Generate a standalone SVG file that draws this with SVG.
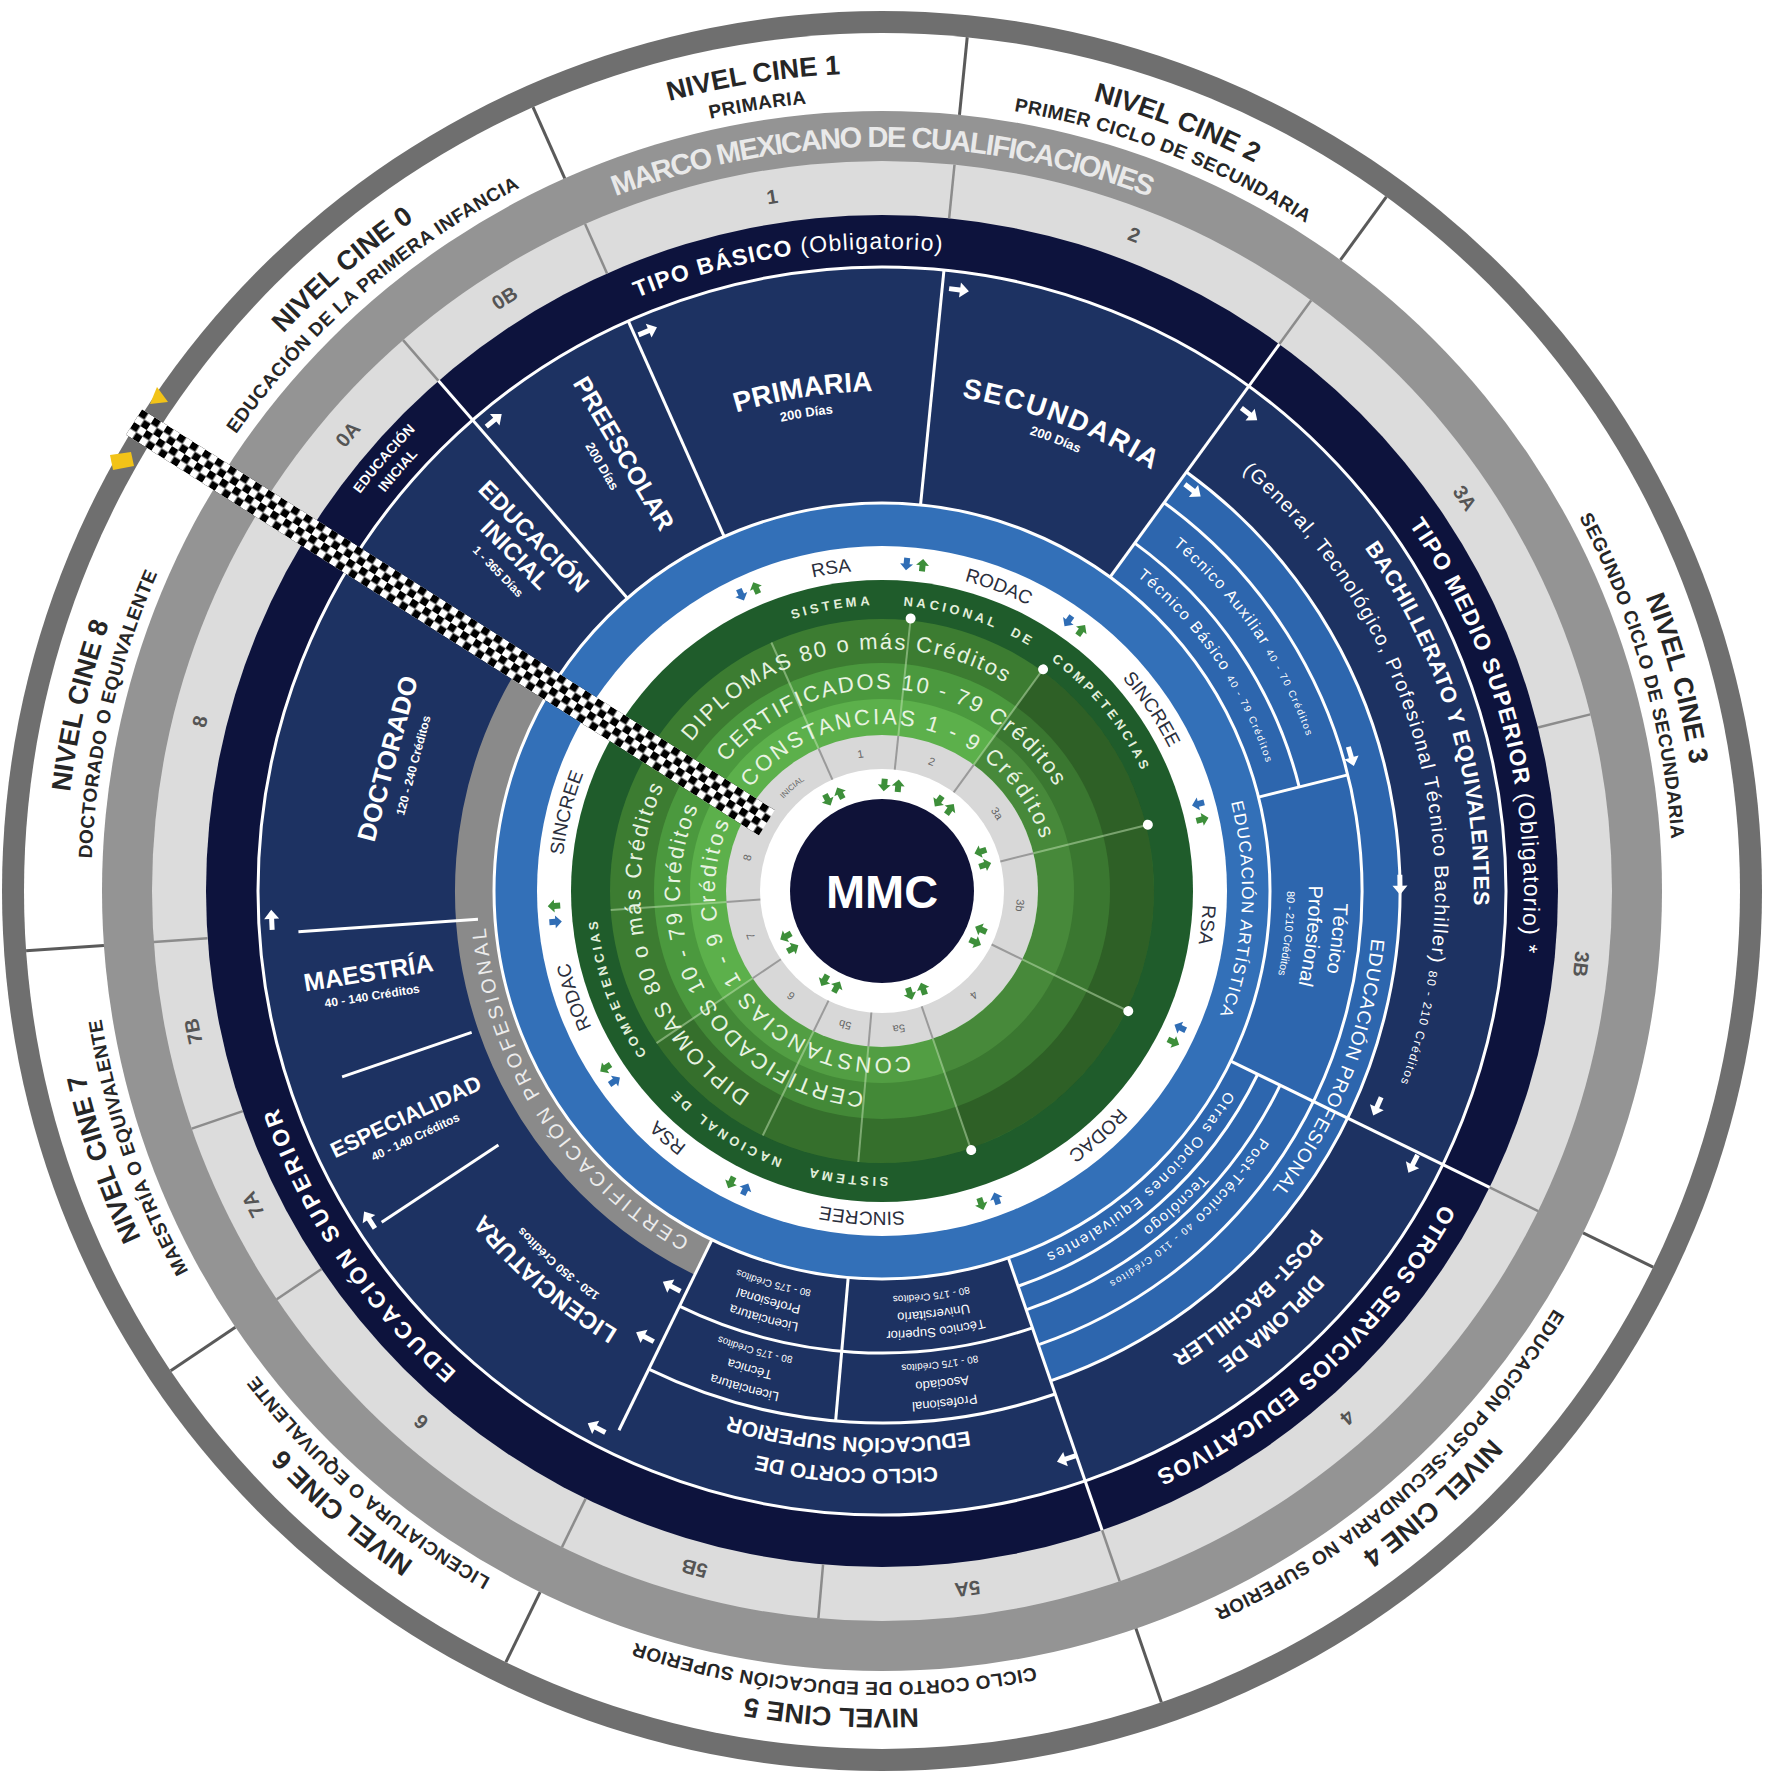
<svg xmlns="http://www.w3.org/2000/svg" width="1770" height="1780" viewBox="0 0 1770 1780">
<defs>
<style>
text{font-family:"Liberation Sans",Arial,sans-serif}
.cn{font-size:27px;font-weight:bold;fill:#262626}
.cs{font-size:19px;font-weight:bold;fill:#262626;letter-spacing:.5px}
.mk{font-size:29px;font-weight:bold;fill:#e9e9e9;letter-spacing:-1.6px}
.lg{font-size:20px;font-weight:bold;fill:#555}
.rg{font-size:23px;font-weight:bold;fill:#fff;letter-spacing:1.2px}
.nr{font-weight:normal}
.wb{font-weight:bold;fill:#fff}
.wn{fill:#fff}
.rs{font-size:19px;fill:#2a2e3c}
.sn{font-size:13px;font-weight:bold;fill:#e3efdc;letter-spacing:3.5px}
.gt{font-size:22px;fill:#e8f3e2}
.in{font-size:11px;fill:#666}
.wl{stroke:#fff;stroke-width:3;fill:none}
</style>
<path id="p818" d="M0,-818A818,818 0 0 1 0,818A818,818 0 0 1 0,-818A818,818 0 0 1 0,818A818,818 0 0 1 0,-818"/>
<path id="p791" d="M0,-791A791,791 0 0 1 0,791A791,791 0 0 1 0,-791A791,791 0 0 1 0,791A791,791 0 0 1 0,-791"/>
<path id="p744" d="M0,-744A744,744 0 0 1 0,744A744,744 0 0 1 0,-744A744,744 0 0 1 0,744A744,744 0 0 1 0,-744"/>
<path id="p696" d="M0,-696A696,696 0 0 1 0,696A696,696 0 0 1 0,-696A696,696 0 0 1 0,696A696,696 0 0 1 0,-696"/>
<path id="p656" d="M0,-656A656,656 0 0 1 0,656A656,656 0 0 1 0,-656A656,656 0 0 1 0,656A656,656 0 0 1 0,-656"/>
<path id="p642" d="M0,-642A642,642 0 0 1 0,642A642,642 0 0 1 0,-642A642,642 0 0 1 0,642A642,642 0 0 1 0,-642"/>
<path id="p637" d="M0,-637A637,637 0 0 1 0,637A637,637 0 0 1 0,-637A637,637 0 0 1 0,637A637,637 0 0 1 0,-637"/>
<path id="p592" d="M0,-592A592,592 0 0 1 0,592A592,592 0 0 1 0,-592A592,592 0 0 1 0,592A592,592 0 0 1 0,-592"/>
<path id="p578" d="M0,-578A578,578 0 0 1 0,578A578,578 0 0 1 0,-578A578,578 0 0 1 0,578A578,578 0 0 1 0,-578"/>
<path id="p553" d="M0,-553A553,553 0 0 1 0,553A553,553 0 0 1 0,-553A553,553 0 0 1 0,553A553,553 0 0 1 0,-553"/>
<path id="p547" d="M0,-547A547,547 0 0 1 0,547A547,547 0 0 1 0,-547A547,547 0 0 1 0,547A547,547 0 0 1 0,-547"/>
<path id="p512" d="M0,-512A512,512 0 0 1 0,512A512,512 0 0 1 0,-512A512,512 0 0 1 0,512A512,512 0 0 1 0,-512"/>
<path id="p500" d="M0,-500A500,500 0 0 1 0,500A500,500 0 0 1 0,-500A500,500 0 0 1 0,500A500,500 0 0 1 0,-500"/>
<path id="p492" d="M0,-492A492,492 0 0 1 0,492A492,492 0 0 1 0,-492A492,492 0 0 1 0,492A492,492 0 0 1 0,-492"/>
<path id="p480" d="M0,-480A480,480 0 0 1 0,480A480,480 0 0 1 0,-480A480,480 0 0 1 0,480A480,480 0 0 1 0,-480"/>
<path id="p474" d="M0,-474A474,474 0 0 1 0,474A474,474 0 0 1 0,-474A474,474 0 0 1 0,474A474,474 0 0 1 0,-474"/>
<path id="p452" d="M0,-452A452,452 0 0 1 0,452A452,452 0 0 1 0,-452A452,452 0 0 1 0,452A452,452 0 0 1 0,-452"/>
<path id="p440" d="M0,-440A440,440 0 0 1 0,440A440,440 0 0 1 0,-440A440,440 0 0 1 0,440A440,440 0 0 1 0,-440"/>
<path id="p427" d="M0,-427A427,427 0 0 1 0,427A427,427 0 0 1 0,-427A427,427 0 0 1 0,427A427,427 0 0 1 0,-427"/>
<path id="p422" d="M0,-422A422,422 0 0 1 0,422A422,422 0 0 1 0,-422A422,422 0 0 1 0,422A422,422 0 0 1 0,-422"/>
<path id="p405" d="M0,-405A405,405 0 0 1 0,405A405,405 0 0 1 0,-405A405,405 0 0 1 0,405A405,405 0 0 1 0,-405"/>
<path id="p398" d="M0,-398A398,398 0 0 1 0,398A398,398 0 0 1 0,-398A398,398 0 0 1 0,398A398,398 0 0 1 0,-398"/>
<path id="p360" d="M0,-360A360,360 0 0 1 0,360A360,360 0 0 1 0,-360A360,360 0 0 1 0,360A360,360 0 0 1 0,-360"/>
<path id="p321" d="M0,-321A321,321 0 0 1 0,321A321,321 0 0 1 0,-321A321,321 0 0 1 0,321A321,321 0 0 1 0,-321"/>
<path id="p286" d="M0,-286A286,286 0 0 1 0,286A286,286 0 0 1 0,-286A286,286 0 0 1 0,286A286,286 0 0 1 0,-286"/>
<path id="p242" d="M0,-242A242,242 0 0 1 0,242A242,242 0 0 1 0,-242A242,242 0 0 1 0,242A242,242 0 0 1 0,-242"/>
<path id="p202" d="M0,-202A202,202 0 0 1 0,202A202,202 0 0 1 0,-202A202,202 0 0 1 0,202A202,202 0 0 1 0,-202"/>
<path id="p167" d="M0,-167A167,167 0 0 1 0,167A167,167 0 0 1 0,-167A167,167 0 0 1 0,167A167,167 0 0 1 0,-167"/>
<path id="p135" d="M0,-135A135,135 0 0 1 0,135A135,135 0 0 1 0,-135A135,135 0 0 1 0,135A135,135 0 0 1 0,-135"/>
<path id="au" d="M-3,6H3V0H6.5L0,-6.5L-6.5,0H-3Z"/>
<g id="bp"><use href="#au" transform="translate(-8,0) rotate(180)" fill="#2f6db5"/><use href="#au" transform="translate(8,0)" fill="#3d8f3a"/></g>
<g id="gp"><use href="#au" transform="translate(-7,0) rotate(180)" fill="#3d8f3a"/><use href="#au" transform="translate(7,0)" fill="#3d8f3a"/></g>
<path id="arr" d="M-10,-2.5H1V-7.5L10,0L1,7.5V2.5H-10Z" fill="#fff"/>
<pattern id="chk" width="15" height="15" patternUnits="userSpaceOnUse"><rect width="15" height="15" fill="#fff"/><rect width="7.5" height="7.5" fill="#000"/><rect x="7.5" y="7.5" width="7.5" height="7.5" fill="#000"/></pattern>
</defs>
<rect width="1770" height="1780" fill="#fff"/>
<g transform="translate(882,891)">
<g id="rings">
<circle r="880" fill="#6f6f6f"/>
<circle r="858" fill="#fff"/>
<circle r="780" fill="#949494"/>
<circle r="730" fill="#dcdcdc"/>
<circle r="676" fill="#0d133d"/>
<circle r="624" fill="#1d3262"/>
<circle r="453" fill="none" stroke="#2d66ae" stroke-width="130" stroke-dasharray="988.3 5000" transform="rotate(-54)"/>
<circle r="407.5" fill="none" stroke="#8a8a8a" stroke-width="39" stroke-dasharray="682.8 5000" transform="rotate(116)"/>
<circle r="388" fill="#3370b8"/>
<circle r="345" fill="#fff"/>
<circle r="311" fill="#1f5c2b"/>
<circle r="272" fill="#3c7c31"/>
<circle r="228" fill="#4b993e"/>
<circle r="192" fill="#5cb04b"/>
<circle r="214" fill="none" stroke="#000" stroke-opacity=".22" stroke-width="116" stroke-dasharray="466.9 5000" transform="rotate(-54)"/>
<circle r="214" fill="none" stroke="#000" stroke-opacity=".1" stroke-width="116" stroke-dasharray="280.1 5000" transform="rotate(71)"/>
<circle r="156" fill="#d8d8d8"/>
<circle r="122" fill="#fff"/>
</g>
<g id="connectors">
<g stroke="#5a5a5a" stroke-width="3">
<line y1="-780" y2="-858" transform="rotate(336)"/>
<line y1="-780" y2="-858" transform="rotate(5.7)"/>
<line y1="-780" y2="-858" transform="rotate(36)"/>
<line y1="-780" y2="-858" transform="rotate(116)"/>
<line y1="-780" y2="-858" transform="rotate(161)"/>
<line y1="-780" y2="-858" transform="rotate(206)"/>
<line y1="-780" y2="-858" transform="rotate(236)"/>
<line y1="-780" y2="-858" transform="rotate(266)"/>
</g>
<g stroke="#8c8c8c" stroke-width="2.5">
<line y1="-676" y2="-730" transform="rotate(319)"/>
<line y1="-676" y2="-730" transform="rotate(336)"/>
<line y1="-676" y2="-730" transform="rotate(5.7)"/>
<line y1="-676" y2="-730" transform="rotate(36)"/>
<line y1="-676" y2="-730" transform="rotate(76)"/>
<line y1="-676" y2="-730" transform="rotate(116)"/>
<line y1="-676" y2="-730" transform="rotate(161)"/>
<line y1="-676" y2="-730" transform="rotate(185)"/>
<line y1="-676" y2="-730" transform="rotate(206)"/>
<line y1="-676" y2="-730" transform="rotate(236)"/>
<line y1="-676" y2="-730" transform="rotate(251)"/>
<line y1="-676" y2="-730" transform="rotate(266)"/>
</g>
<circle r="624" class="wl"/>
<circle r="388" class="wl"/>
<circle r="518" class="wl" stroke-dasharray="1130.1 5000" transform="rotate(-54)"/>
<circle r="480" class="wl" stroke-dasharray="1047.2 5000" transform="rotate(-54)"/>
<circle r="430" class="wl" stroke-dasharray="300.2 5000" transform="rotate(-54)"/>
<circle r="418" class="wl" stroke-dasharray="328.3 5000" transform="rotate(26)"/>
<circle r="443" class="wl" stroke-dasharray="347.9 5000" transform="rotate(26)"/>
<circle r="532" class="wl" stroke-dasharray="417.8 5000" transform="rotate(71)"/>
<circle r="462" class="wl" stroke-dasharray="362.9 5000" transform="rotate(71)"/>
<g stroke="#fff" stroke-width="3">
<line y1="-388" y2="-676" transform="rotate(319)"/>
<line y1="-388" y2="-624" transform="rotate(336)"/>
<line y1="-388" y2="-624" transform="rotate(5.7)"/>
<line y1="-388" y2="-676" transform="rotate(36)"/>
<line y1="-388" y2="-480" transform="rotate(76)"/>
<line y1="-388" y2="-676" transform="rotate(116)"/>
<line y1="-388" y2="-676" transform="rotate(161)"/>
<line y1="-388" y2="-532" transform="rotate(185)"/>
<line y1="-388" y2="-600" transform="rotate(206)"/>
<line y1="-460" y2="-600" transform="rotate(236.5)"/>
<line y1="-434" y2="-571" transform="rotate(251)"/>
<line y1="-405" y2="-585" transform="rotate(266)"/>
</g>
<g stroke="#c4e3b6" stroke-opacity=".5" stroke-width="2">
<line y1="-156" y2="-272" transform="rotate(336)"/>
<line y1="-156" y2="-272" transform="rotate(6)"/>
<line y1="-156" y2="-272" transform="rotate(36)"/>
<line y1="-156" y2="-272" transform="rotate(76)"/>
<line y1="-156" y2="-272" transform="rotate(116)"/>
<line y1="-156" y2="-272" transform="rotate(161)"/>
<line y1="-156" y2="-272" transform="rotate(185)"/>
<line y1="-156" y2="-272" transform="rotate(206)"/>
<line y1="-156" y2="-272" transform="rotate(236)"/>
<line y1="-156" y2="-272" transform="rotate(266)"/>
</g>
<g stroke="#9a9a9a" stroke-width="2">
<line y1="-122" y2="-156" transform="rotate(336)"/>
<line y1="-122" y2="-156" transform="rotate(6)"/>
<line y1="-122" y2="-156" transform="rotate(36)"/>
<line y1="-122" y2="-156" transform="rotate(76)"/>
<line y1="-122" y2="-156" transform="rotate(116)"/>
<line y1="-122" y2="-156" transform="rotate(161)"/>
<line y1="-122" y2="-156" transform="rotate(185)"/>
<line y1="-122" y2="-156" transform="rotate(206)"/>
<line y1="-122" y2="-156" transform="rotate(236)"/>
<line y1="-122" y2="-156" transform="rotate(266)"/>
</g>
<g fill="#fff">
<circle r="5" transform="rotate(6) translate(0,-274)"/>
<circle r="5" transform="rotate(36) translate(0,-274)"/>
<circle r="5" transform="rotate(76) translate(0,-274)"/>
<circle r="5" transform="rotate(116) translate(0,-274)"/>
<circle r="5" transform="rotate(161) translate(0,-274)"/>
</g>
<g id="arrows">
<use href="#arr" transform="rotate(320.5) translate(0,-610)"/>
<use href="#arr" transform="rotate(337.3) translate(0,-607)"/>
<use href="#arr" transform="rotate(7.3) translate(0,-606)"/>
<use href="#arr" transform="rotate(37.6) translate(0,-602)"/>
<use href="#arr" transform="rotate(37.8) translate(0,-507)"/>
<use href="#arr" transform="rotate(74) translate(0,-488)"/>
<use href="#arr" transform="rotate(89.3) translate(0,-518)"/>
<use href="#arr" transform="rotate(113.5) translate(0,-540)"/>
<use href="#arr" transform="rotate(117.2) translate(0,-597)"/>
<use href="#arr" transform="rotate(162) translate(0,-597)"/>
<use href="#arr" transform="rotate(208) translate(0,-448)"/>
<use href="#arr" transform="rotate(208) translate(0,-505)"/>
<use href="#arr" transform="rotate(208) translate(0,-608)"/>
<use href="#arr" transform="rotate(237.3) translate(0,-609)"/>
<use href="#arr" transform="rotate(267.3) translate(0,-611)"/>
</g>
<g id="icons-rsa">
<use href="#bp" transform="rotate(336) translate(0,-328)"/>
<use href="#bp" transform="rotate(5.7) translate(0,-328)"/>
<use href="#bp" transform="rotate(36) translate(0,-328)"/>
<use href="#bp" transform="rotate(76) translate(0,-328)"/>
<use href="#bp" transform="rotate(116) translate(0,-328)"/>
<use href="#bp" transform="rotate(161) translate(0,-328)"/>
<use href="#bp" transform="rotate(206) translate(0,-328)"/>
<use href="#bp" transform="rotate(236) translate(0,-328)"/>
<use href="#bp" transform="rotate(266) translate(0,-328)"/>
</g>
<g id="icons-inner">
<use href="#gp" transform="rotate(333) translate(0,-106)"/>
<use href="#gp" transform="rotate(5) translate(0,-106)"/>
<use href="#gp" transform="rotate(36) translate(0,-106)"/>
<use href="#gp" transform="rotate(72) translate(0,-106)"/>
<use href="#gp" transform="rotate(115) translate(0,-106)"/>
<use href="#gp" transform="rotate(161) translate(0,-106)"/>
<use href="#gp" transform="rotate(209) translate(0,-106)"/>
<use href="#gp" transform="rotate(241) translate(0,-106)"/>
</g>
</g>
<g id="cine-levels" text-anchor="middle">
<text class="cn"><textPath href="#p818" startOffset="44.31%">NIVEL CINE 0</textPath></text>
<text class="cs"><textPath href="#p791" startOffset="44.31%">EDUCACIÓN DE LA PRIMERA INFANCIA</textPath></text>
<text class="cn"><textPath href="#p818" startOffset="48.75%">NIVEL CINE 1</textPath></text>
<text class="cs"><textPath href="#p791" startOffset="48.75%">PRIMARIA</textPath></text>
<text class="cn"><textPath href="#p818" startOffset="52.92%">NIVEL CINE 2</textPath></text>
<text class="cs"><textPath href="#p791" startOffset="52.92%">PRIMER CICLO DE SECUNDARIA</textPath></text>
<text class="cn"><textPath href="#p818" startOffset="60.42%">NIVEL CINE 3</textPath></text>
<text class="cs"><textPath href="#p791" startOffset="60.28%">SEGUNDO CICLO DE SECUNDARIA</textPath></text>
<text class="cn"><textPath href="#p818" startOffset="69.17%">NIVEL CINE 4</textPath></text>
<text class="cs"><textPath href="#p791" startOffset="69.24%">EDUCACIÓN POST-SECUNDARIA NO SUPERIOR</textPath></text>
<text class="cn"><textPath href="#p818" startOffset="25.49%">NIVEL CINE 5</textPath></text>
<text class="cs"><textPath href="#p791" startOffset="25.49%">CICLO CORTO DE EDUCACIÓN SUPERIOR</textPath></text>
<text class="cn"><textPath href="#p818" startOffset="30.69%">NIVEL CINE 6</textPath></text>
<text class="cs"><textPath href="#p791" startOffset="30.69%">LICENCIATURA O EQUIVALENTE</textPath></text>
<text class="cn"><textPath href="#p818" startOffset="34.86%">NIVEL CINE 7</textPath></text>
<text class="cs"><textPath href="#p791" startOffset="34.86%">MAESTRÍA O EQUIVALENTE</textPath></text>
<text class="cn"><textPath href="#p818" startOffset="39.31%">NIVEL CINE 8</textPath></text>
<text class="cs"><textPath href="#p791" startOffset="39.31%">DOCTORADO O EQUIVALENTE</textPath></text>
</g>
<g id="marco" text-anchor="middle">
<text class="mk"><textPath href="#p744" startOffset="50%">MARCO MEXICANO DE CUALIFICACIONES</textPath></text>
</g>
<g id="mmc-levels" text-anchor="middle">
<text class="lg"><textPath href="#p696" startOffset="43.13%">0A</textPath></text>
<text class="lg"><textPath href="#p696" startOffset="45.49%">0B</textPath></text>
<text class="lg"><textPath href="#p696" startOffset="48.75%">1</textPath></text>
<text class="lg"><textPath href="#p696" startOffset="52.92%">2</textPath></text>
<text class="lg"><textPath href="#p696" startOffset="57.78%">3A</textPath></text>
<text class="lg"><textPath href="#p696" startOffset="63.33%">3B</textPath></text>
<text class="lg"><textPath href="#p696" startOffset="69.24%">4</textPath></text>
<text class="lg"><textPath href="#p696" startOffset="74.03%">5A</textPath></text>
<text class="lg"><textPath href="#p696" startOffset="27.15%">5B</textPath></text>
<text class="lg"><textPath href="#p696" startOffset="30.69%">6</textPath></text>
<text class="lg"><textPath href="#p696" startOffset="33.82%">7A</textPath></text>
<text class="lg"><textPath href="#p696" startOffset="35.90%">7B</textPath></text>
<text class="lg"><textPath href="#p696" startOffset="39.44%">8</textPath></text>
</g>
<g id="tipos" text-anchor="middle">
<text class="rg"><textPath href="#p642" startOffset="48.82%">TIPO BÁSICO <tspan class="nr">(Obligatorio)</tspan></textPath></text>
<text class="rg"><textPath href="#p642" startOffset="60.47%">TIPO MEDIO SUPERIOR <tspan class="nr">(Obligatorio) *</tspan></textPath></text>
<text class="rg"><textPath href="#p642" startOffset="69.03%">OTROS SERVICIOS EDUCATIVOS</textPath></text>
<text class="rg" style="letter-spacing:3.3px"><textPath href="#p642" startOffset="32.78%">EDUCACIÓN SUPERIOR</textPath></text>
<text class="wb" style="font-size:14px"><textPath href="#p656" startOffset="43.19%">EDUCACIÓN</textPath></text>
<text class="wb" style="font-size:14px"><textPath href="#p637" startOffset="43.19%">INICIAL</textPath></text>
</g>
<g id="educacion-inicial" text-anchor="middle" transform="rotate(315.5) translate(0,-497) rotate(90)">
<text class="wb" style="font-size:24px"><tspan x="0" y="8">EDUCACIÓN</tspan><tspan x="0" y="34">INICIAL</tspan><tspan x="0" y="54" style="font-size:12px">1 - 365 Días</tspan></text>
</g>
<g id="preescolar" text-anchor="middle" transform="rotate(329.5) translate(0,-508) rotate(90)">
<text class="wb" style="font-size:25px"><tspan x="0" y="9">PREESCOLAR</tspan><tspan x="0" y="30" style="font-size:13px">200 Días</tspan></text>
</g>
<g id="primaria" text-anchor="middle">
<text class="wb" style="font-size:28px"><textPath href="#p500" startOffset="48.75%">PRIMARIA</textPath></text>
<text class="wb" style="font-size:13px"><textPath href="#p480" startOffset="48.75%">200 Días</textPath></text>
</g>
<g id="secundaria" text-anchor="middle">
<text class="wb" style="font-size:28px;letter-spacing:2px"><textPath href="#p500" startOffset="52.92%">SECUNDARIA</textPath></text>
<text class="wb" style="font-size:13px"><textPath href="#p480" startOffset="52.92%">200 Días</textPath></text>
</g>
<g id="bachillerato" text-anchor="middle">
<text class="wb" style="font-size:22px;letter-spacing:.5px"><textPath href="#p592" startOffset="60.14%">BACHILLERATO Y EQUIVALENTES</textPath></text>
<text class="wn" style="font-size:20px;letter-spacing:1.5px"><textPath href="#p553" startOffset="60.49%">(General, Tecnológico, Profesional Técnico Bachiller) <tspan style="font-size:12px">80 - 210 Créditos</tspan></textPath></text>
</g>
<g id="educacion-profesional" text-anchor="middle">
<text class="wn" style="font-size:19px;letter-spacing:1px"><textPath href="#p492" startOffset="65.5%">EDUCACIÓN PROFESIONAL</textPath></text>
</g>
<g id="tecnico-profesional" text-anchor="middle">
<text class="wn" style="font-size:20px"><textPath href="#p452" startOffset="63.33%">Técnico</textPath></text>
<text class="wn" style="font-size:20px"><textPath href="#p427" startOffset="63.33%">Profesional</textPath></text>
<text class="wn" style="font-size:11px"><textPath href="#p405" startOffset="63.33%">80 - 210 Créditos</textPath></text>
</g>
<g id="tecnico-auxiliar">
<text class="wn" style="font-size:16px;letter-spacing:1.5px"><textPath href="#p452" startOffset="55.56%">Técnico Auxiliar <tspan style="font-size:10px">40 - 70 Créditos</tspan></textPath></text>
</g>
<g id="tecnico-basico">
<text class="wn" style="font-size:16px;letter-spacing:1.5px"><textPath href="#p405" startOffset="55.42%">Técnico Básico <tspan style="font-size:10px">40 - 79 Créditos</tspan></textPath></text>
</g>
<g id="post-tecnico" text-anchor="middle">
<text class="wn" style="font-size:15px;letter-spacing:1.5px"><textPath href="#p452" startOffset="68.96%">Post-Técnico <tspan style="font-size:10px">40 - 110 Créditos</tspan></textPath></text>
<text class="wn" style="font-size:15px;letter-spacing:1.5px"><textPath href="#p427" startOffset="69.03%">Tecnólogo</textPath></text>
<text class="wn" style="font-size:15px;letter-spacing:2px"><textPath href="#p398" startOffset="69.17%">Otras Opciones Equivalentes</textPath></text>
</g>
<g id="diploma-post-bachiller" text-anchor="middle">
<text class="wb" style="font-size:21px"><textPath href="#p578" startOffset="69.17%">DIPLOMA DE</textPath></text>
<text class="wb" style="font-size:21px"><textPath href="#p547" startOffset="69.17%">POST- BACHILLER</textPath></text>
</g>
<g id="ciclo-corto" text-anchor="middle">
<text class="wb" style="font-size:21px"><textPath href="#p578" startOffset="25.49%">CICLO CORTO DE</textPath></text>
<text class="wb" style="font-size:21px"><textPath href="#p547" startOffset="25.49%">EDUCACIÓN SUPERIOR</textPath></text>
</g>
<g id="ciclo-corto-opciones" text-anchor="middle">
<text class="wn" style="font-size:13px"><textPath href="#p512" startOffset="27.15%">Licenciatura</textPath></text>
<text class="wn" style="font-size:13px"><textPath href="#p492" startOffset="27.15%">Técnica</textPath></text>
<text class="wn" style="font-size:10px"><textPath href="#p474" startOffset="27.15%">80 - 175 Créditos</textPath></text>
<text class="wn" style="font-size:13px"><textPath href="#p440" startOffset="27.15%">Licenciatura</textPath></text>
<text class="wn" style="font-size:13px"><textPath href="#p422" startOffset="27.15%">Profesional</textPath></text>
<text class="wn" style="font-size:10px"><textPath href="#p405" startOffset="27.15%">80 - 175 Créditos</textPath></text>
<text class="wn" style="font-size:13px"><textPath href="#p512" startOffset="74.03%">Profesional</textPath></text>
<text class="wn" style="font-size:13px"><textPath href="#p492" startOffset="74.03%">Asociado</textPath></text>
<text class="wn" style="font-size:10px"><textPath href="#p474" startOffset="74.03%">80 - 175 Créditos</textPath></text>
<text class="wn" style="font-size:13px"><textPath href="#p440" startOffset="74.03%">Técnico Superior</textPath></text>
<text class="wn" style="font-size:13px"><textPath href="#p422" startOffset="74.03%">Universitario</textPath></text>
<text class="wn" style="font-size:10px"><textPath href="#p405" startOffset="74.03%">80 - 175 Créditos</textPath></text>
</g>
<g id="licenciatura" text-anchor="middle">
<text class="wb" style="font-size:24px"><textPath href="#p512" startOffset="30.69%">LICENCIATURA</textPath></text>
<text class="wb" style="font-size:12px"><textPath href="#p492" startOffset="30.69%">120 - 350 Créditos</textPath></text>
</g>
<g id="especialidad" text-anchor="middle" transform="rotate(244.7) translate(0,-527) rotate(90)">
<text class="wb" style="font-size:22px"><tspan x="0" y="8">ESPECIALIDAD</tspan><tspan x="0" y="27" style="font-size:12px">40 - 140 Créditos</tspan></text>
</g>
<g id="maestria" text-anchor="middle" transform="rotate(261) translate(0,-520) rotate(90)">
<text class="wb" style="font-size:25px"><tspan x="0" y="9">MAESTRÍA</tspan><tspan x="0" y="28" style="font-size:12px">40 - 140 Créditos</tspan></text>
</g>
<g id="doctorado" text-anchor="middle" transform="rotate(285) translate(0,-503)">
<text class="wb" style="font-size:26px"><tspan x="0" y="0">DOCTORADO</tspan><tspan x="0" y="22" style="font-size:12px">120 - 240 Créditos</tspan></text>
</g>
<g id="certificacion" text-anchor="middle">
<text style="font-size:20px;fill:#ececec;letter-spacing:3.5px"><textPath href="#p398" startOffset="32.92%">CERTIFICACIÓN PROFESIONAL</textPath></text>
</g>
<g id="educacion-artistica" text-anchor="middle">
<text class="wn" style="font-size:17px;letter-spacing:1.2px"><textPath href="#p360" startOffset="62.92%">EDUCACIÓN ARTÍSTICA</textPath></text>
</g>
<g id="registros" text-anchor="middle">
<text class="rs"><textPath href="#p321" startOffset="48.75%">RSA</textPath></text>
<text class="rs"><textPath href="#p321" startOffset="52.92%">RODAC</textPath></text>
<text class="rs"><textPath href="#p321" startOffset="57.78%">SINCREE</textPath></text>
<text class="rs"><textPath href="#p321" startOffset="63.33%">RSA</textPath></text>
<text class="rs"><textPath href="#p321" startOffset="69.24%">RODAC</textPath></text>
<text class="rs"><textPath href="#p321" startOffset="25.49%">SINCREE</textPath></text>
<text class="rs"><textPath href="#p321" startOffset="30.69%">RSA</textPath></text>
<text class="rs"><textPath href="#p321" startOffset="34.86%">RODAC</textPath></text>
<text class="rs"><textPath href="#p321" startOffset="39.44%">SINCREE</textPath></text>
</g>
<g id="sistema-nacional" text-anchor="middle">
<text class="sn"><textPath href="#p286" startOffset="48.61%">SISTEMA</textPath></text>
<text class="sn"><textPath href="#p286" startOffset="51.94%">NACIONAL</textPath></text>
<text class="sn"><textPath href="#p286" startOffset="54.03%">DE</textPath></text>
<text class="sn"><textPath href="#p286" startOffset="57.08%">COMPETENCIAS</textPath></text>
<text class="sn"><textPath href="#p286" startOffset="25.97%">SISTEMA</textPath></text>
<text class="sn"><textPath href="#p286" startOffset="29.17%">NACIONAL</textPath></text>
<text class="sn"><textPath href="#p286" startOffset="31.11%">DE</textPath></text>
<text class="sn"><textPath href="#p286" startOffset="34.72%">COMPETENCIAS</textPath></text>
</g>
<g id="creditos">
<text class="gt" style="letter-spacing:2px"><textPath href="#p242" startOffset="42.78%">DIPLOMAS 80 o más Créditos</textPath></text>
<text class="gt" style="letter-spacing:2px" text-anchor="end"><textPath href="#p242" startOffset="41.11%">DIPLOMAS 80 o más Créditos</textPath></text>
<text class="gt" style="letter-spacing:2.1px"><textPath href="#p202" startOffset="42.99%">CERTIFICADOS 10 - 79 Créditos</textPath></text>
<text class="gt" style="letter-spacing:2.1px" text-anchor="end"><textPath href="#p202" startOffset="40.97%">CERTIFICADOS 10 - 79 Créditos</textPath></text>
<text class="gt" style="letter-spacing:2.6px"><textPath href="#p167" startOffset="42.78%">CONSTANCIAS 1 - 9 Créditos</textPath></text>
<text class="gt" style="letter-spacing:2.6px" text-anchor="end"><textPath href="#p167" startOffset="40.97%">CONSTANCIAS 1 - 9 Créditos</textPath></text>
</g>
<g id="inner-levels" text-anchor="middle">
<text class="in" style="font-size:8px"><textPath href="#p135" startOffset="44.31%">INICIAL</textPath></text>
<text class="in"><textPath href="#p135" startOffset="48.75%">1</textPath></text>
<text class="in"><textPath href="#p135" startOffset="52.92%">2</textPath></text>
<text class="in"><textPath href="#p135" startOffset="57.78%">3a</textPath></text>
<text class="in"><textPath href="#p135" startOffset="63.33%">3b</textPath></text>
<text class="in"><textPath href="#p135" startOffset="69.24%">4</textPath></text>
<text class="in"><textPath href="#p135" startOffset="74.03%">5a</textPath></text>
<text class="in"><textPath href="#p135" startOffset="27.15%">5b</textPath></text>
<text class="in"><textPath href="#p135" startOffset="30.69%">6</textPath></text>
<text class="in"><textPath href="#p135" startOffset="34.86%">7</textPath></text>
<text class="in"><textPath href="#p135" startOffset="39.44%">8</textPath></text>
</g>
</g>
<g id="flag">
<g transform="translate(134,422) rotate(32.35)"><rect x="0" y="-15" width="749" height="30" fill="url(#chk)"/></g>
<polygon points="150,404 168,402 157,387" fill="#f2c318"/>
<polygon points="110,455 131,452 134,466 113,470" fill="#f2c318"/>
</g>
<g id="mmc">
<circle cx="882" cy="891" r="92" fill="#0f1238"/>
<text x="882" y="908" text-anchor="middle" style="font-size:47px;font-weight:bold;fill:#fff">MMC</text>
</g>
</svg>
